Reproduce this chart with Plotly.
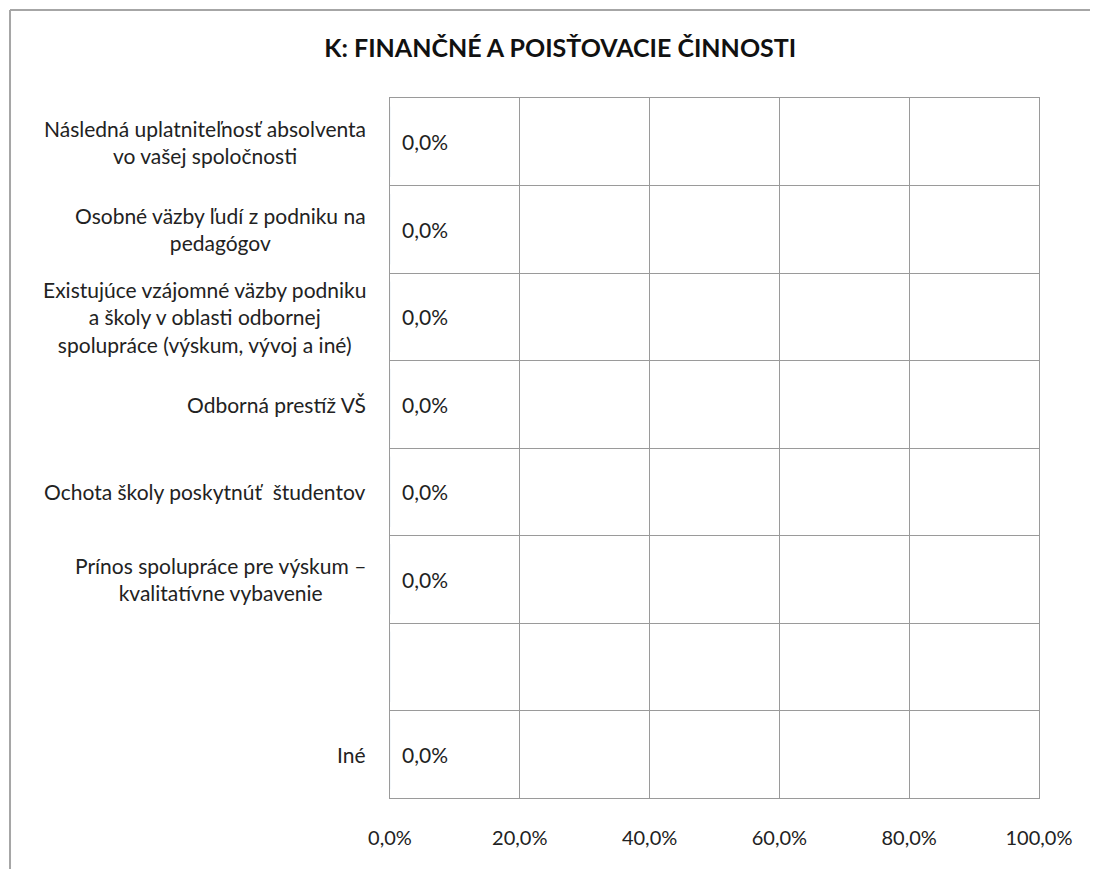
import plotly.graph_objects as go

# categories (top to bottom); the 7th row is empty in the source chart
categories = [
    "Následná uplatniteľnosť absolventa<br>vo vašej spoločnosti",
    "Osobné väzby ľudí z podniku na<br>pedagógov",
    "Existujúce vzájomné väzby podniku<br>a školy v oblasti odbornej<br>spolupráce (výskum, vývoj a iné)",
    "Odborná prestíž VŠ",
    "Ochota školy poskytnúť  študentov",
    "Prínos spolupráce pre výskum –<br>kvalitatívne vybavenie",
    "",
    "Iné",
]
values = [0.0, 0.0, 0.0, 0.0, 0.0, 0.0, None, 0.0]
x_ticks = [0, 0.2, 0.4, 0.6, 0.8, 1.0]

FONT = "Lato, 'Open Sans', sans-serif"
GRID = "#9a9a9a"
FRAME = "#a6a6a6"

rows = list(range(len(categories)))

fig = go.Figure()
fig.add_trace(go.Bar(
    x=[v if v is not None else 0 for v in values],
    y=rows,
    orientation="h",
    marker_color="#4f81bd",
    hoverinfo="skip",
    showlegend=False,
))

annotations = []
for i, (cat, v) in enumerate(zip(categories, values)):
    if cat:
        annotations.append(dict(
            x=0, y=i, xref="paper", yref="y", text=cat, showarrow=False,
            xanchor="right", yanchor="middle", align="center", xshift=-22,
            font=dict(family=FONT, size=21, color="#222"),
        ))
    if v is not None:
        label = f"{v * 100:.1f}".replace(".", ",") + "%"
        annotations.append(dict(
            x=v, y=i, xref="x", yref="y", text=label, showarrow=False,
            xanchor="left", yanchor="middle", xshift=10,
            font=dict(family=FONT, size=21, color="#222"),
        ))

# outer frame (top and left edges visible in source)
shapes = [
    dict(type="line", xref="paper", yref="paper", x0=-0.5855, x1=1.2, y0=1.1257, y1=1.1257,
         line=dict(color=FRAME, width=2)),
    dict(type="line", xref="paper", yref="paper", x0=-0.5855, x1=-0.5855, y0=1.1257, y1=-0.2,
         line=dict(color=FRAME, width=2)),
]

fig.update_layout(
    title=dict(
        text="<b>K: FINANČNÉ A POISŤOVACIE ČINNOSTI</b>",
        x=0.503, xanchor="center", y=0.954, yanchor="middle",
        font=dict(family=FONT, size=25, color="#111"),
    ),
    width=1098, height=869,
    margin=dict(l=382, r=67, t=90, b=79),
    paper_bgcolor="white", plot_bgcolor="white",
    separators=", ",
    annotations=annotations,
    shapes=shapes,
    font=dict(family=FONT, size=20, color="#222"),
)

fig.update_xaxes(
    range=[0, 1], tickvals=x_ticks, tickformat=".1%",
    showgrid=True, gridcolor=GRID, gridwidth=1,
    showline=True, linecolor=GRID, mirror=True,
    ticks="outside", ticklen=22, tickcolor="rgba(0,0,0,0)",
    zeroline=False, fixedrange=True,
)
fig.update_yaxes(
    range=[len(categories) - 0.5, -0.5],
    tickvals=[k + 0.5 for k in range(-1, len(categories))],
    showticklabels=False,
    showgrid=True, gridcolor=GRID, gridwidth=1,
    showline=True, linecolor=GRID, mirror=True,
    zeroline=False, fixedrange=True,
)

fig.write_html("out.html")
